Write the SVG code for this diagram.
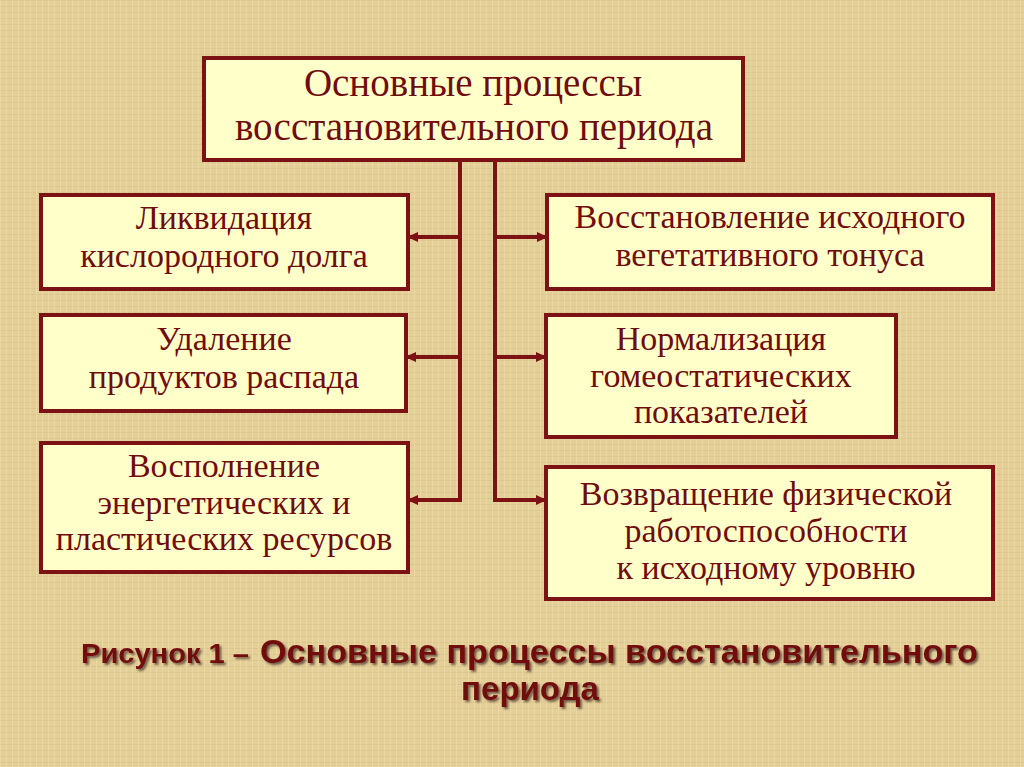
<svg xmlns="http://www.w3.org/2000/svg" width="1024" height="767" viewBox="0 0 1024 767">
<defs>
<pattern id="tex" width="6" height="6" patternUnits="userSpaceOnUse">
<rect width="6" height="6" fill="#e4cf98"/>
<rect x="0" y="0" width="6" height="1" fill="#d6bf84" opacity="0.6"/>
<rect x="0" y="0" width="1" height="6" fill="#efdeab" opacity="0.6"/>
</pattern>
<marker id="ah" markerWidth="11" markerHeight="10" refX="10" refY="5" orient="auto" markerUnits="userSpaceOnUse">
<path d="M0,0 L11,5 L0,10 Z" fill="#7d1214"/>
</marker>
<filter id="sh" x="-5%" y="-20%" width="110%" height="140%">
<feDropShadow dx="2" dy="2" stdDeviation="0.8" flood-color="#3a2a20" flood-opacity="0.7"/>
</filter>
</defs>
<style>
.box{fill:#ffffc9;stroke:#7d1214;stroke-width:4}
.t{font-family:"Liberation Serif","Times New Roman",serif;fill:#700b0e;text-anchor:middle}
.t1{font-size:39px}
.t2{font-size:34px}
.con{stroke:#7d1214;stroke-width:4;fill:none}
.cap{font-family:"Liberation Sans",Arial,sans-serif;font-weight:bold;fill:#720a0a}
</style>
<rect width="1024" height="767" fill="url(#tex)"/>
<g id="connectors">
<path class="con" d="M460,160 V502"/>
<path class="con" d="M495,160 V502"/>
<path class="con" d="M462,237 H408" marker-end="url(#ah)"/>
<path class="con" d="M462,357 H406" marker-end="url(#ah)"/>
<path class="con" d="M462,500 H408" marker-end="url(#ah)"/>
<path class="con" d="M493,237 H547" marker-end="url(#ah)"/>
<path class="con" d="M493,357 H546" marker-end="url(#ah)"/>
<path class="con" d="M493,500 H546" marker-end="url(#ah)"/>
</g>
<g id="top">
<rect class="box" x="204" y="58" width="539" height="102"/>
<text class="t t1" x="473" y="96">Основные процессы</text>
<text class="t t1" x="474" y="140">восстановительного периода</text>
</g>
<g id="l1">
<rect class="box" x="41" y="195" width="367" height="94"/>
<text class="t t2" x="224" y="229">Ликвидация</text>
<text class="t t2" x="224" y="267">кислородного долга</text>
</g>
<g id="l2">
<rect class="box" x="41" y="315" width="365" height="96"/>
<text class="t t2" x="224" y="350">Удаление</text>
<text class="t t2" x="224" y="388">продуктов распада</text>
</g>
<g id="l3">
<rect class="box" x="41" y="443" width="367" height="129"/>
<text class="t t2" x="224" y="477">Восполнение</text>
<text class="t t2" x="224" y="514">энергетических и</text>
<text class="t t2" x="224" y="550">пластических ресурсов</text>
</g>
<g id="r1">
<rect class="box" x="547" y="195" width="446" height="94"/>
<text class="t t2" x="770" y="228">Восстановление исходного</text>
<text class="t t2" x="770" y="266">вегетативного тонуса</text>
</g>
<g id="r2">
<rect class="box" x="546" y="315" width="350" height="122"/>
<text class="t t2" x="721" y="350">Нормализация</text>
<text class="t t2" x="721" y="387">гомеостатических</text>
<text class="t t2" x="721" y="423">показателей</text>
</g>
<g id="r3">
<rect class="box" x="546" y="467" width="447" height="132"/>
<text class="t t2" x="766" y="505">Возвращение физической</text>
<text class="t t2" x="766" y="542">работоспособности</text>
<text class="t t2" x="766" y="579">к исходному уровню</text>
</g>
<g id="caption" filter="url(#sh)">
<text class="cap" x="81" y="663" font-size="28" textLength="168" lengthAdjust="spacingAndGlyphs">Рисунок 1 –</text>
<text class="cap" x="260" y="663" font-size="33" textLength="718" lengthAdjust="spacingAndGlyphs">Основные процессы восстановительного</text>
<text class="cap" x="530" y="700" text-anchor="middle" font-size="33">периода</text>
</g>
</svg>
